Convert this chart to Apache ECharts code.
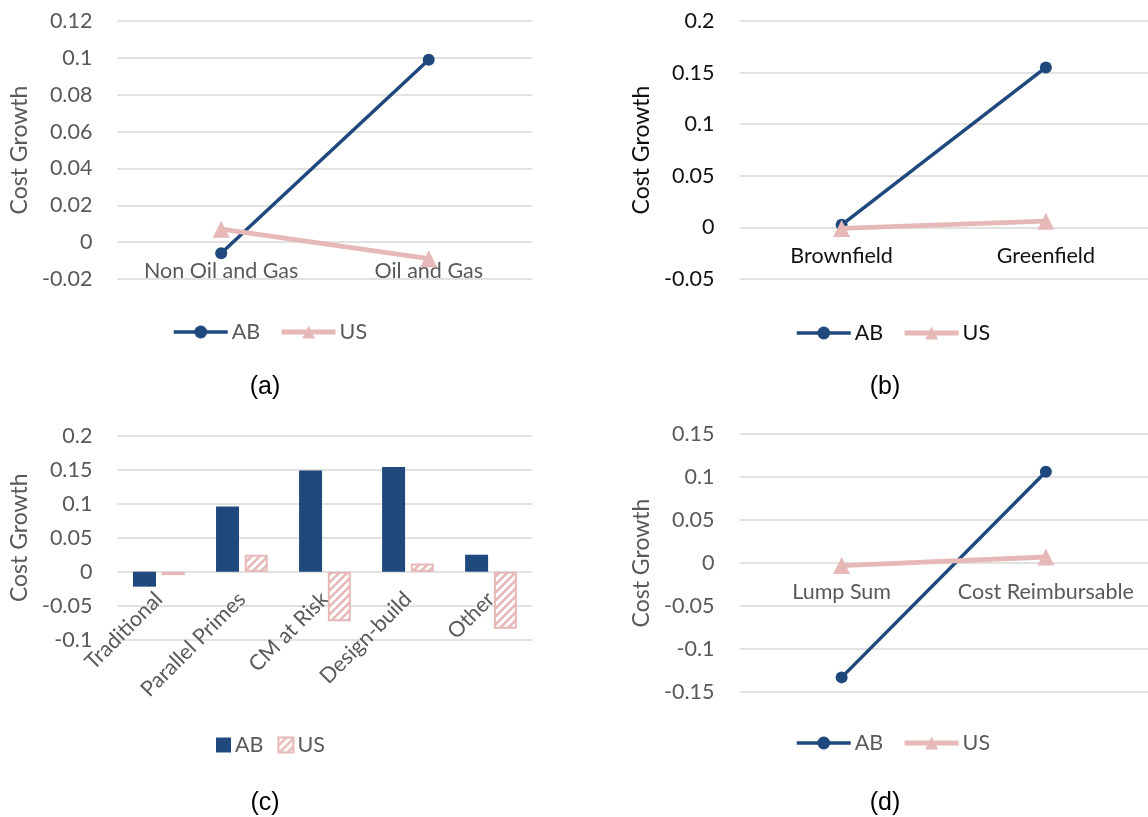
<!DOCTYPE html>
<html><head><meta charset="utf-8">
<script src="https://cdn.jsdelivr.net/npm/echarts@6/dist/echarts.min.js"></script>
<style>
html,body{margin:0;padding:0;background:#fff;width:1148px;height:817px;overflow:hidden}
.p{position:absolute}
</style></head><body>
<div id="pa" class="p" style="left:0;top:0;width:574px;height:408px"></div>
<div id="pb" class="p" style="left:574px;top:0;width:574px;height:408px"></div>
<div id="pc" class="p" style="left:0;top:408px;width:574px;height:409px"></div>
<div id="pd" class="p" style="left:574px;top:408px;width:574px;height:409px"></div>
<script>
// ---- data ----
const seriesNames = ['AB', 'US'];
const yTitle = 'Cost Growth';

const catsA = ['Non Oil and Gas', 'Oil and Gas'];
const abA = [-0.006, 0.099];
const usA = [0.007, -0.009];
const yMinA = -0.02, yMaxA = 0.12, yStepA = 0.02;

const catsB = ['Brownfield', 'Greenfield'];
const abB = [0.0025, 0.155];
const usB = [-0.001, 0.006];
const yMinB = -0.05, yMaxB = 0.2, yStepB = 0.05;

const catsC = ['Traditional', 'Parallel Primes', 'CM at Risk', 'Design-build', 'Other'];
const abC = [-0.022, 0.096, 0.149, 0.154, 0.025];
const usC = [-0.005, 0.025, -0.073, 0.012, -0.084];
const yMinC = -0.1, yMaxC = 0.2, yStepC = 0.05;

const catsD = ['Lump Sum', 'Cost Reimbursable'];
const abD = [-0.133, 0.106];
const usD = [-0.003, 0.007];
const yMinD = -0.15, yMaxD = 0.15, yStepD = 0.05;

const captions = ['(a)', '(b)', '(c)', '(d)'];

// ---- style ----
const BLUE = '#1F497D';
const PINK = '#E6B9B8';
const GRID = '#D9D9D9';
const GRAY = '#595959';
const FONT = 'Lato';
const FS = 21.5;

function hatch() {
  const c = document.createElement('canvas');
  c.width = 8; c.height = 8;
  const g = c.getContext('2d');
  g.fillStyle = '#fff'; g.fillRect(0, 0, 8, 8);
  g.strokeStyle = PINK; g.lineWidth = 2.6; g.lineCap = 'square';
  g.beginPath();
  g.moveTo(-2, 10); g.lineTo(10, -2);
  g.moveTo(-2, 2); g.lineTo(2, -2);
  g.moveTo(6, 10); g.lineTo(10, 6);
  g.stroke();
  return c;
}

function base(cfg) {
  // place the category axis on the value 0 of the value axis
  const zeroOffset = -cfg.height * (0 - cfg.min) / (cfg.max - cfg.min);
  return {
    animation: false,
    backgroundColor: '#fff',
    textStyle: { fontFamily: FONT },
    grid: { left: cfg.left, top: cfg.top, width: cfg.width, height: cfg.height, containLabel: false },
    xAxis: {
      type: 'category', data: cfg.cats, boundaryGap: true, position: 'bottom', offset: zeroOffset,
      axisLine: { show: false, onZero: false }, axisTick: { show: false },
      axisLabel: { color: cfg.color, fontSize: FS, fontFamily: FONT, margin: cfg.xMargin, interval: 0, rotate: cfg.rotate || 0 },
      splitLine: { show: false }
    },
    yAxis: {
      type: 'value', min: cfg.min, max: cfg.max, interval: cfg.step,
      name: yTitle, nameLocation: 'middle', nameGap: cfg.nameGap,
      nameTextStyle: { color: cfg.color, fontSize: 23, fontFamily: FONT },
      axisLine: { show: false }, axisTick: { show: false },
      axisLabel: { color: cfg.color, fontSize: FS, fontFamily: FONT, margin: cfg.yMargin },
      splitLine: { lineStyle: { color: GRID, width: 1.5 } }
    },
    legend: {
      left: cfg.legLeft, top: cfg.legTop, itemGap: 19, padding: 0,
      textStyle: { color: cfg.color, fontSize: FS, fontFamily: FONT, padding: [0, 0, 0, -1] },
      lineStyle: { width: 'inherit' },
      data: seriesNames
    },
    graphic: [{
      type: 'text', x: cfg.capX, y: cfg.capY,
      style: { text: cfg.caption, fontSize: 25, fontFamily: 'Liberation Sans', fill: '#000', align: 'center', verticalAlign: 'middle' }
    }]
  };
}

function lineChart(id, cfg, ab, us) {
  const o = base(cfg);
  o.legend.itemWidth = 54; o.legend.itemHeight = 16;
  o.series = [
    { name: seriesNames[0], type: 'line', data: ab, symbol: 'circle', symbolSize: 12,
      lineStyle: { color: BLUE, width: 3.5 }, itemStyle: { color: BLUE }, z: 2 },
    { name: seriesNames[1], type: 'line', data: us, symbol: 'triangle', symbolSize: 17,
      lineStyle: { color: PINK, width: 4.8 }, itemStyle: { color: PINK }, z: 3 }
  ];
  echarts.init(document.getElementById(id), null, { renderer: 'canvas' }).setOption(o);
}

function barChart(id, cfg, ab, us) {
  const o = base(cfg);
  o.legend.itemWidth = 15; o.legend.itemHeight = 15; o.legend.itemGap = 14; o.legend.icon = 'rect';
  o.series = [
    { name: seriesNames[0], type: 'bar', data: ab, barWidth: 23, barGap: '25%',
      itemStyle: { color: BLUE } },
    { name: seriesNames[1], type: 'bar', data: us, barWidth: 23,
      itemStyle: { color: { image: hatch(), repeat: 'repeat' }, borderColor: PINK, borderWidth: 2 } }
  ];
  echarts.init(document.getElementById(id), null, { renderer: 'canvas' }).setOption(o);
}

lineChart('pa', { cats: catsA, min: yMinA, max: yMaxA, step: yStepA, left: 116.5, top: 21, width: 416, height: 258,
  color: GRAY, xMargin: 18, yMargin: 25, nameGap: 85, legLeft: 172, legTop: 321, capX: 265, capY: 387, caption: captions[0] }, abA, usA);

lineChart('pb', { cats: catsB, min: yMinB, max: yMaxB, step: yStepB, left: 165.5, top: 21, width: 414, height: 258,
  color: '#111', xMargin: 18, yMargin: 25, nameGap: 85, legLeft: 221, legTop: 322, capX: 311, capY: 387, caption: captions[1] }, abB, usB);

barChart('pc', { cats: catsC, min: yMinC, max: yMaxC, step: yStepC, left: 116.5, top: 27.7, width: 416, height: 204,
  color: GRAY, xMargin: 24, yMargin: 25, nameGap: 85, rotate: 45, legLeft: 216, legTop: 326, capX: 265, capY: 395, caption: captions[2] }, abC, usC);

lineChart('pd', { cats: catsD, min: yMinD, max: yMaxD, step: yStepD, left: 165.5, top: 26, width: 414, height: 258,
  color: GRAY, xMargin: 18, yMargin: 25, nameGap: 85, legLeft: 221, legTop: 324, capX: 311, capY: 395, caption: captions[3] }, abD, usD);
</script>
</body></html>
